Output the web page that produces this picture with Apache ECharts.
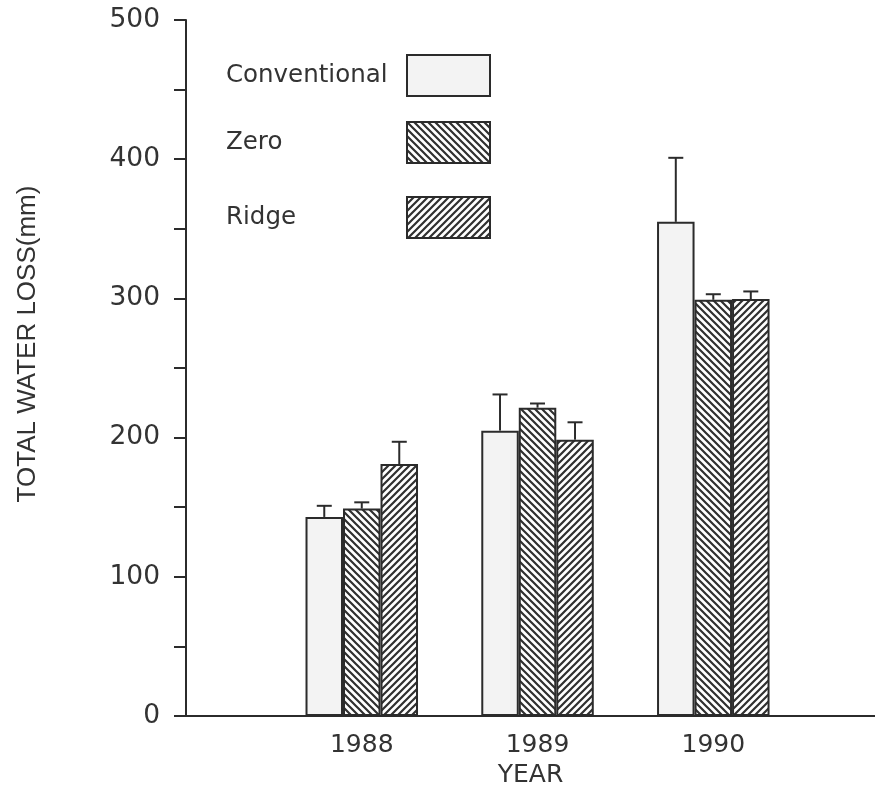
<!DOCTYPE html>
<html>
<head>
<meta charset="utf-8">
<script src="https://cdn.jsdelivr.net/npm/echarts@6/dist/echarts.min.js"></script>
<style>
html,body{margin:0;padding:0;background:#fff;}
#chart{width:875px;height:788px;}
</style>
</head>
<body>
<div id="chart"></div>
<script>
// ---- data ----
const years = [1988, 1989, 1990];
const seriesNames = ['Conventional', 'Zero', 'Ridge'];
const conventional = [143, 205, 355];
const conventionalUpper = [151, 231, 401];
const zero = [149, 221.5, 299];
const zeroUpper = [153.5, 224.5, 303];
const ridge = [181, 198.5, 299.5];
const ridgeUpper = [197, 211, 305];
const yTicks = [0, 100, 200, 300, 400, 500];

// ---- styling helpers ----
const INK = '#2b2b2b';
const BAR_W = 37.5;

function hatch(dir) {
  const p = 7;
  const c = document.createElement('canvas');
  c.width = p; c.height = p;
  const g = c.getContext('2d');
  g.fillStyle = '#ffffff';
  g.fillRect(0, 0, p, p);
  g.strokeStyle = '#303030';
  g.lineWidth = 2.2;
  g.lineCap = 'square';
  g.beginPath();
  if (dir === 'back') { // "\" lines
    g.moveTo(-1, -1); g.lineTo(p + 1, p + 1);
    g.moveTo(-1, p - 1); g.lineTo(1, p + 1);
    g.moveTo(p - 1, -1); g.lineTo(p + 1, 1);
  } else { // "/" lines
    g.moveTo(-1, p + 1); g.lineTo(p + 1, -1);
    g.moveTo(-1, 1); g.lineTo(1, -1);
    g.moveTo(p - 1, p + 1); g.lineTo(p + 1, p - 1);
  }
  g.stroke();
  return { image: c, repeat: 'repeat' };
}

const fills = ['#f3f3f3', hatch('back'), hatch('fwd')];
const values = [conventional, zero, ridge];
const uppers = [conventionalUpper, zeroUpper, ridgeUpper];

const barSeries = seriesNames.map((name, i) => ({
  name: name,
  type: 'bar',
  barWidth: BAR_W,
  barGap: '0%',
  data: years.map((y, k) => [y, values[i][k]]),
  itemStyle: { color: fills[i], borderColor: INK, borderWidth: 2 },
  emphasis: { disabled: true },
  z: 2
}));

const errSeries = seriesNames.map((name, i) => ({
  name: name + ' err',
  type: 'custom',
  data: years.map((y, k) => [y, values[i][k], uppers[i][k]]),
  renderItem: function (params, api) {
    const off = (i - 1) * BAR_W;
    const a = api.coord([api.value(0), api.value(1)]);
    const b = api.coord([api.value(0), api.value(2)]);
    const x = a[0] + off;
    const cap = 7.5;
    return {
      type: 'group',
      children: [
        { type: 'line', shape: { x1: x, y1: a[1], x2: x, y2: b[1] }, style: { stroke: INK, lineWidth: 2 } },
        { type: 'line', shape: { x1: x - cap, y1: b[1], x2: x + cap, y2: b[1] }, style: { stroke: INK, lineWidth: 2 } }
      ]
    };
  },
  z: 3,
  silent: true
}));

const legendTops = [54, 121, 196];
const legends = seriesNames.map((name, i) => ({
  data: [name],
  left: 226,
  top: legendTops[i],
  padding: 0,
  align: 'right',
  orient: 'vertical',
  itemWidth: 83,
  itemHeight: 41,
  selectedMode: false,
  icon: 'rect',
  formatter: n => '{t|' + n + '}',
  textStyle: {
    color: '#333',
    fontFamily: 'DejaVu Sans',
    fontSize: 24.5,
    rich: { t: { width: 176, align: 'left', fontFamily: 'DejaVu Sans', fontSize: 24.5, color: '#333' } }
  }
}));

const option = {
  backgroundColor: '#ffffff',
  animation: false,
  legend: legends,
  grid: { left: 186, right: 0, top: 20, bottom: 72, containLabel: false, outerBoundsMode: 'none' },
  xAxis: {
    type: 'value',
    min: 1987,
    max: 1990.92,
    interval: 1,
    name: 'YEAR',
    nameLocation: 'middle',
    nameGap: 44,
    nameTextStyle: { fontFamily: 'DejaVu Sans', fontSize: 25, color: '#333' },
    axisLine: { show: true, lineStyle: { color: INK, width: 2 } },
    axisTick: { show: false },
    splitLine: { show: false },
    axisLabel: {
      margin: 17,
      fontFamily: 'DejaVu Sans',
      fontSize: 25,
      color: '#333',
      formatter: v => (years.indexOf(v) >= 0 ? String(v) : '')
    }
  },
  yAxis: {
    type: 'value',
    min: yTicks[0],
    max: yTicks[yTicks.length - 1],
    interval: 100,
    name: 'TOTAL WATER LOSS(mm)',
    nameLocation: 'middle',
    nameGap: 145,
    nameRotate: 90,
    nameTextStyle: { fontFamily: 'Liberation Sans', fontSize: 26, color: '#333', padding: [0, 0, 0, 48] },
    axisLine: { show: true, lineStyle: { color: INK, width: 2 } },
    axisTick: { show: true, inside: false, length: 12, lineStyle: { color: INK, width: 2 } },
    minorTick: { show: true, splitNumber: 2, length: 12, lineStyle: { color: INK, width: 2 } },
    splitLine: { show: false },
    axisLabel: { margin: 26, fontFamily: 'DejaVu Sans', fontSize: 26.5, color: '#333' }
  },
  series: barSeries.concat(errSeries)
};

const chart = echarts.init(document.getElementById('chart'), null, { renderer: 'canvas' });
chart.setOption(option);
</script>
</body>
</html>
